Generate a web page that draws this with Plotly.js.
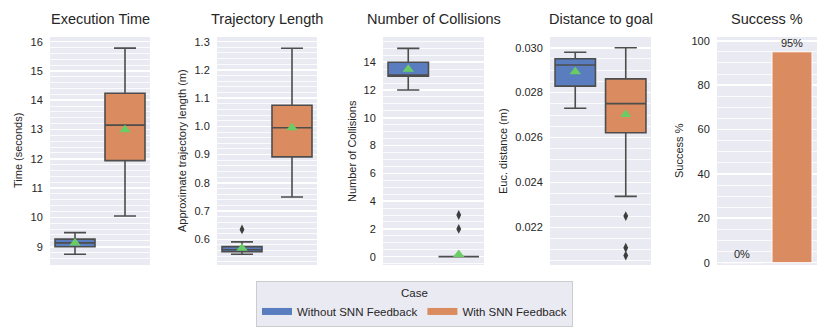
<!DOCTYPE html>
<html>
<head>
<meta charset="utf-8">
<script src="https://cdn.plot.ly/plotly-3.0.1.min.js"></script>
<style>
  html, body { margin: 0; padding: 0; background: #fff; }
  #grafico { width: 830px; height: 332px; }
</style>
</head>
<body>
<div id="grafico"></div>
<script>
// valores
const casos = ['Without SNN Feedback', 'With SNN Feedback'];
const colores = ['#597dbf', '#da8b5f'];

const titulos = ['Execution Time', 'Trajectory Length', 'Number of Collisions', 'Distance to goal', 'Success %'];
const ejesY = ['Time (seconds)', 'Approximate trajectory length (m)', 'Number of Collisions', 'Euc. distance (m)', 'Success %'];

// tiempo de ejecucion
const tiempoQ1 = [9.0, 11.94];
const tiempoMed = [9.13, 13.15];
const tiempoQ3 = [9.26, 14.24];
const tiempoMin = [8.74, 10.05];
const tiempoMax = [9.48, 15.78];
const tiempoMedia = [9.13, 12.99];
const tiempoAtipicos = [[], []];

// longitud de trayectoria
const longQ1 = [0.556, 0.892];
const longMed = [0.563, 0.995];
const longQ3 = [0.574, 1.075];
const longMin = [0.547, 0.75];
const longMax = [0.591, 1.277];
const longMedia = [0.568, 0.995];
const longAtipicos = [[0.635], []];

// colisiones
const colQ1 = [13, 0];
const colMed = [13, 0];
const colQ3 = [14, 0];
const colMin = [12, 0];
const colMax = [15, 0];
const colMedia = [13.5, 0.15];
const colAtipicos = [[], [2, 3]];

// distancia a la meta
const distQ1 = [0.02829, 0.02621];
const distMed = [0.02923, 0.02751];
const distQ3 = [0.02951, 0.02861];
const distMin = [0.02730, 0.02338];
const distMax = [0.02980, 0.03000];
const distMedia = [0.02893, 0.02703];
const distAtipicos = [[], [0.02250, 0.02109, 0.02074]];

// exito
const exito = [0, 95];
const exitoTexto = ['0%', '95%'];

const cajas = [
  { q1: tiempoQ1, med: tiempoMed, q3: tiempoQ3, lo: tiempoMin, hi: tiempoMax, media: tiempoMedia, atip: tiempoAtipicos },
  { q1: longQ1, med: longMed, q3: longQ3, lo: longMin, hi: longMax, media: longMedia, atip: longAtipicos },
  { q1: colQ1, med: colMed, q3: colQ3, lo: colMin, hi: colMax, media: colMedia, atip: colAtipicos },
  { q1: distQ1, med: distMed, q3: distQ3, lo: distMin, hi: distMax, media: distMedia, atip: distAtipicos }
];

const fuente = 'Liberation Sans, Arial, sans-serif';
const gris = '#4d4d4d';
const texto = '#262626';

const trazas = [];
cajas.forEach((c, p) => {
  const xa = p === 0 ? 'x' : 'x' + (p + 1);
  const ya = p === 0 ? 'y' : 'y' + (p + 1);
  for (let i = 0; i < 2; i++) {
    trazas.push({
      type: 'box', xaxis: xa, yaxis: ya, x: [i],
      q1: [c.q1[i]], median: [c.med[i]], q3: [c.q3[i]],
      lowerfence: [c.lo[i]], upperfence: [c.hi[i]],
      width: 0.8, whiskerwidth: 0.55, boxpoints: false,
      fillcolor: colores[i], line: { color: gris, width: 1.6 },
      showlegend: false, hoverinfo: 'skip'
    });
    if (c.atip[i].length) {
      trazas.push({
        type: 'scatter', mode: 'markers', xaxis: xa, yaxis: ya,
        x: c.atip[i].map(() => i), y: c.atip[i],
        marker: { symbol: 'diamond-tall', size: 7, color: '#3d3d3d' },
        showlegend: false, cliponaxis: false
      });
    }
  }
  trazas.push({
    type: 'scatter', mode: 'markers', xaxis: xa, yaxis: ya,
    x: [0, 1], y: c.media,
    marker: { symbol: 'triangle-up', size: 10, color: '#6acc64', line: { width: 0 } },
    showlegend: false, cliponaxis: false
  });
});

trazas.push({
  type: 'bar', xaxis: 'x5', yaxis: 'y5', x: [0, 1], y: exito,
  width: 0.8, marker: { color: colores[1], line: { color: 'white', width: 1 } },
  text: exitoTexto, textposition: 'outside', cliponaxis: false,
  textfont: { family: fuente, size: 11, color: texto },
  showlegend: false, hoverinfo: 'skip'
});

// trazas solo para la leyenda
casos.forEach((n, i) => {
  trazas.push({
    type: 'scatter', mode: 'lines', x: [null], y: [null], name: n,
    line: { color: colores[i], width: 7 }
  });
});

const dominiosX = [[50, 150], [217, 317], [383, 484], [550, 651], [717, 817]];
const rangosY = [[8.375, 16.16], [0.509, 1.3166], [-0.60, 15.82], [0.020321, 0.030477], [-1.04, 101.67]];
const pasos = [1, 0.1, 2, 0.002, 20];
const menores = [0.2, 0.02, 0.5, 0.0005, 5];
const formatos = ['d', '.1f', 'd', '.3f', 'd'];
const posTituloY = [18, 182, 352, 503, 679];

const layout = {
  width: 830, height: 332,
  margin: { l: 0, r: 0, t: 0, b: 0 },
  paper_bgcolor: 'white', plot_bgcolor: '#eaeaf2',
  font: { family: fuente, size: 11, color: texto },
  boxmode: 'overlay', bargap: 0.2,
  showlegend: true,
  legend: {
    orientation: 'h', x: 0.4994, xanchor: 'center', y: 5 / 332, yanchor: 'bottom',
    bgcolor: '#eaeaf2', bordercolor: '#cccccc', borderwidth: 1,
    font: { family: fuente, size: 11.5, color: texto },
    title: { text: 'Case', side: 'top center', font: { family: fuente, size: 11.5, color: texto } },
    itemwidth: 30
  },
  annotations: []
};

dominiosX.forEach((d, p) => {
  const sx = p === 0 ? '' : String(p + 1);
  layout['xaxis' + sx] = {
    domain: [d[0] / 830, d[1] / 830], anchor: 'y' + sx,
    range: [-0.5, 1.5], showgrid: false, zeroline: false,
    showticklabels: false, ticks: '', fixedrange: true
  };
  layout['yaxis' + sx] = {
    domain: [67 / 332, 295 / 332], anchor: 'x' + sx,
    range: rangosY[p], dtick: pasos[p], tick0: 0, tickformat: formatos[p],
    showgrid: true, gridcolor: 'white', gridwidth: 1.6, zeroline: false,
    ticks: 'outside', ticklen: 4, tickcolor: 'rgba(0,0,0,0)',
    tickfont: { family: fuente, size: 11, color: texto },
    minor: { dtick: menores[p], tick0: 0, showgrid: true, gridcolor: 'white', gridwidth: 0.8 },
    automargin: false
  };
  layout.annotations.push({
    xref: 'paper', yref: 'paper', x: (d[0] + d[1]) / 2 / 830, y: (332 - 19) / 332,
    xanchor: 'center', yanchor: 'middle', showarrow: false,
    text: titulos[p], font: { family: fuente, size: 14.5, color: texto }
  });
  layout.annotations.push({
    xref: 'paper', yref: 'paper', x: posTituloY[p] / 830, y: (67 + 295) / 2 / 332,
    xanchor: 'center', yanchor: 'middle', showarrow: false, textangle: -90,
    text: ejesY[p], font: { family: fuente, size: 11, color: texto }
  });
});

Plotly.newPlot('grafico', trazas, layout, { staticPlot: true });
</script>
</body>
</html>
